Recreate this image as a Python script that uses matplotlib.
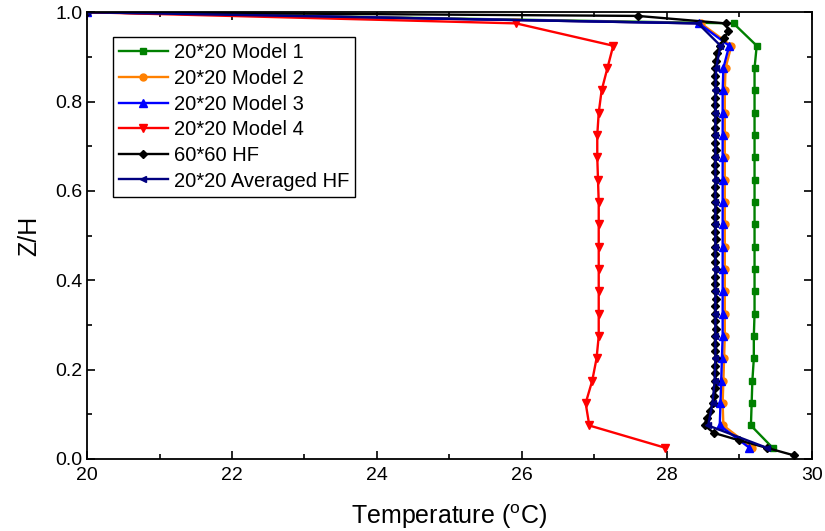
import numpy as np
from matplotlib import pyplot as plt
from matplotlib.ticker import MultipleLocator

plt.rcParams['font.family'] = ['Liberation Sans', 'DejaVu Sans']
plt.rcParams['mathtext.fontset'] = 'custom'
plt.rcParams['mathtext.rm'] = 'Liberation Sans'

# 20*20 grids: cell centres plus the top wall
z20 = [0.025, 0.075, 0.125, 0.175, 0.225, 0.275, 0.325, 0.375, 0.425, 0.475,
       0.525, 0.575, 0.625, 0.675, 0.725, 0.775, 0.825, 0.875, 0.925, 0.975, 1.0]

t_model1 = [29.46, 29.16, 29.17, 29.18, 29.20, 29.20, 29.21, 29.21, 29.21, 29.21,
            29.21, 29.21, 29.21, 29.21, 29.21, 29.21, 29.21, 29.21, 29.24, 28.92, 20.0]
t_model2 = [29.18, 28.78, 28.77, 28.78, 28.79, 28.80, 28.80, 28.80, 28.80, 28.80,
            28.80, 28.80, 28.80, 28.80, 28.80, 28.80, 28.80, 28.81, 28.89, 28.47, 20.0]
t_model3 = [29.14, 28.73, 28.74, 28.75, 28.76, 28.77, 28.77, 28.77, 28.77, 28.77,
            28.77, 28.77, 28.77, 28.77, 28.77, 28.77, 28.77, 28.78, 28.86, 28.44, 20.0]
t_model4 = [27.98, 26.93, 26.88, 26.97, 27.03, 27.06, 27.06, 27.06, 27.06, 27.06,
            27.06, 27.06, 27.05, 27.04, 27.04, 27.06, 27.10, 27.18, 27.26, 25.92, 20.0]
t_avg_hf = [29.38, 28.57, 28.63, 28.66, 28.67, 28.67, 28.67, 28.67, 28.67, 28.67,
            28.67, 28.67, 28.67, 28.67, 28.67, 28.67, 28.67, 28.68, 28.74, 28.43, 20.0]

# 60*60 grid
z60 = [0.0083, 0.0250, 0.0417, 0.0583, 0.0750, 0.0917, 0.1083, 0.1250, 0.1417, 0.1583,
       0.1750, 0.1917, 0.2083, 0.2250, 0.2417, 0.2583, 0.2750, 0.2917, 0.3083, 0.3250,
       0.3417, 0.3583, 0.3750, 0.3917, 0.4083, 0.4250, 0.4417, 0.4583, 0.4750, 0.4917,
       0.5083, 0.5250, 0.5417, 0.5583, 0.5750, 0.5917, 0.6083, 0.6250, 0.6417, 0.6583,
       0.6750, 0.6917, 0.7083, 0.7250, 0.7417, 0.7583, 0.7750, 0.7917, 0.8083, 0.8250,
       0.8417, 0.8583, 0.8750, 0.8917, 0.9083, 0.9250, 0.9417, 0.9583, 0.9750, 0.9917, 1.0]
t_hf60 = [29.75, 29.38, 29.00, 28.65, 28.52, 28.55, 28.60, 28.63, 28.65, 28.66,
          28.67, 28.66, 28.67, 28.68, 28.67, 28.66, 28.67, 28.68, 28.67, 28.66,
          28.67, 28.68, 28.67, 28.66, 28.67, 28.68, 28.67, 28.66, 28.67, 28.68,
          28.67, 28.66, 28.67, 28.68, 28.67, 28.66, 28.67, 28.68, 28.67, 28.66,
          28.67, 28.68, 28.67, 28.66, 28.67, 28.68, 28.67, 28.66, 28.67, 28.68,
          28.67, 28.66, 28.67, 28.68, 28.69, 28.73, 28.79, 28.85, 28.81, 27.60, 20.0]

fig = plt.figure(figsize=(8.25, 5.31), dpi=100)
ax = fig.add_axes([0.1055, 0.1356, 0.8785, 0.8414])

ax.plot(t_model1, z20, color='#008000', marker='s', ms=5, lw=1.7, label='20*20 Model 1')
ax.plot(t_model2, z20, color='#FF8000', marker='o', ms=5, lw=1.7, label='20*20 Model 2')
ax.plot(t_model3, z20, color='#0000FF', marker='^', ms=6, lw=1.7, label='20*20 Model 3')
ax.plot(t_model4, z20, color='#FF0000', marker='v', ms=6, lw=1.7, label='20*20 Model 4')
ax.plot(t_hf60, z60, color='black', marker='D', ms=4.5, lw=1.7, label='60*60 HF')
ax.plot(t_avg_hf, z20, color='#000080', marker='<', ms=5, lw=1.7, label='20*20 Averaged HF')

ax.set_xlim(20, 30)
ax.set_ylim(0, 1.0)
ax.xaxis.set_major_locator(MultipleLocator(2))
ax.xaxis.set_minor_locator(MultipleLocator(1))
ax.yaxis.set_major_locator(MultipleLocator(0.2))
ax.yaxis.set_minor_locator(MultipleLocator(0.1))
ax.tick_params(which='both', direction='in', top=True, right=True, width=1.2, labelsize=14)
ax.tick_params(which='major', length=6)
ax.tick_params(which='minor', length=3.5)
ax.tick_params(axis='x', pad=6)
for s in ax.spines.values():
    s.set_linewidth(1.3)

ax.set_xlabel('Temperature ($\\mathregular{^{o}}$C)', fontsize=18, labelpad=13)
ax.set_ylabel('Z/H', fontsize=18, labelpad=10)

leg = ax.legend(loc='upper left', bbox_to_anchor=(0.036, 0.944), fontsize=14.5,
                frameon=True, fancybox=False, framealpha=1, edgecolor='black',
                numpoints=1, handlelength=2.4, borderpad=0.3, labelspacing=0.33,
                handletextpad=0.3, borderaxespad=0)
leg.get_frame().set_linewidth(1.0)

fig.savefig('out.png', dpi=100)
